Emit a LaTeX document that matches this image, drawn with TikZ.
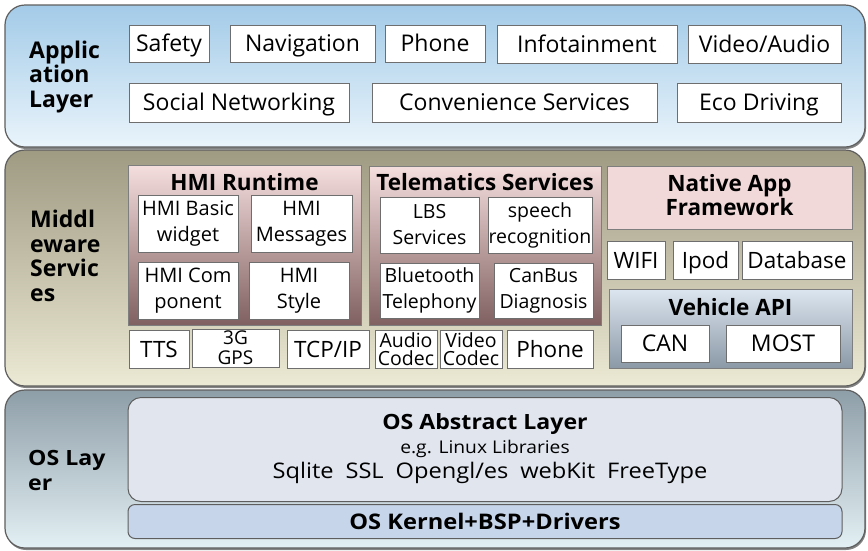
\documentclass[tikz,border=0pt]{standalone}
\usepackage{fontspec}
\setmainfont{Open Sans}
\newfontfamily\osfont[FakeStretch=1.1]{Open Sans}
\usetikzlibrary{shadows}

\definecolor{appTop}{HTML}{A3CBE8}
\definecolor{appBot}{HTML}{EAF4FB}
\definecolor{midTop}{HTML}{9F9A82}
\definecolor{midBot}{HTML}{ECE9D4}
\definecolor{osTop}{HTML}{8E9EA8}
\definecolor{osBot}{HTML}{E3F0F4}
\definecolor{pinkTop}{HTML}{F5DEDE}
\definecolor{pinkBot}{HTML}{806060}
\definecolor{pinkFlat}{HTML}{F2D9D9}
\definecolor{vehTop}{HTML}{DCE6F0}
\definecolor{vehBot}{HTML}{8B98A6}
\definecolor{absFill}{HTML}{E0E5EE}
\definecolor{kerFill}{HTML}{C6D5EA}
\definecolor{edge}{HTML}{5E5E5E}

\tikzset{
  layer/.style={draw=edge, line width=1.2pt, rounded corners=20pt, inner sep=0pt,
    drop shadow={shadow xshift=1pt, shadow yshift=-2pt, fill=black!65, opacity=0.75}},
  panel/.style={draw=edge!80, line width=0.9pt, inner sep=0pt},
  cell/.style={draw=edge!90, fill=white, line width=0.9pt, inner sep=0pt, align=center},
  oneline/.style={text height=16.4pt, text depth=0pt},
  appbox/.style={cell, oneline, font=\fontsize{23}{26}\selectfont},
  twoline/.style={cell, font=\fontsize{19.5}{26}\selectfont},
  single/.style={cell, oneline, font=\fontsize{22.5}{24}\selectfont},
  codec/.style={cell, font=\fontsize{19.5}{18}\selectfont},
  paneltitle/.style={inner sep=0pt, align=center, font=\bfseries\fontsize{22.5}{24}\selectfont},
  lbl/.style={inner sep=0pt, align=left, anchor=west, font=\bfseries\fontsize{23}{24.5}\selectfont},
  ostext/.style={inner sep=0pt, align=center},
}

\begin{document}
\begin{tikzpicture}[x=1pt, y=-1pt]
\useasboundingbox (0,0) rectangle (868,550);

% ---------- three layers ----------
\node[layer, top color=appTop, bottom color=appBot, minimum width=860, minimum height=142] (applayer) at (435,76) {};
\node[layer, top color=midTop, bottom color=midBot, minimum width=860, minimum height=236] (midlayer) at (435,268) {};
\node[layer, top color=osTop, bottom color=osBot, minimum width=860, minimum height=158] (oslayer) at (435,469) {};

\node[lbl] (applbl) at (29,77) {Applic\\ation\\Layer};
\node[lbl] (midlbl) at (30,256) {Middl\\eware\\Servic\\es};
\node[lbl, font=\osfont\bfseries\fontsize{21}{25}\selectfont] (oslbl) at (28,470) {OS Lay\\er};

% ---------- application layer ----------
\node[appbox, minimum width=80,  minimum height=37] (safety)  at (169,43.5) {Safety};
\node[appbox, minimum width=145, minimum height=37] (navi)    at (302.5,43.5) {Navigation};
\node[appbox, minimum width=100, minimum height=37] (phone)   at (435,43.5) {Phone};
\node[appbox, minimum width=180, minimum height=38] (info)    at (587,44) {Infotainment};
\node[appbox, minimum width=153, minimum height=38] (video)   at (764.5,44) {Video/Audio};
\node[appbox, minimum width=220, minimum height=39] (social)  at (239,102.5) {Social Networking};
\node[appbox, minimum width=285, minimum height=39] (conv)    at (514.5,102.5) {Convenience Services};
\node[appbox, minimum width=164, minimum height=39] (eco)     at (759,102.5) {Eco Driving};

% ---------- middleware: HMI runtime ----------
\node[panel, top color=pinkTop, bottom color=pinkBot, minimum width=233, minimum height=160] (hmi) at (244.5,245) {};
\node[paneltitle] (hmititle) at (244.5,182) {HMI Runtime};
\node[cell, font=\fontsize{20}{26}\selectfont, minimum width=100, minimum height=57] (hmibasic) at (188,223.5) {HMI Basic\\widget};
\node[cell, font=\fontsize{20}{26}\selectfont, minimum width=101, minimum height=57] (hmimsg)   at (301.5,224) {HMI\\Messages};
\node[cell, font=\fontsize{20}{26}\selectfont, minimum width=100, minimum height=57] (hmicomp)  at (188,290.5) {HMI Com\\ponent};
\node[cell, font=\fontsize{20}{26}\selectfont, minimum width=100, minimum height=57] (hmistyle) at (299,290.5) {HMI\\Style};

% ---------- middleware: telematics ----------
\node[panel, top color=pinkTop, bottom color=pinkBot, minimum width=232, minimum height=159] (tele) at (485,245.5) {};
\node[paneltitle] (teletitle) at (485,182) {Telematics Services};
\node[twoline, minimum width=99,  minimum height=56] (lbs)    at (429.5,225) {LBS\\Services};
\node[twoline, minimum width=104, minimum height=56] (speech) at (540,225) {speech\\recognition};
\node[twoline, minimum width=99,  minimum height=55] (bt)     at (429.5,290.5) {Bluetooth\\Telephony};
\node[twoline, minimum width=99,  minimum height=55] (canbus) at (543.5,290.5) {CanBus\\Diagnosis};

% ---------- middleware: bottom row ----------
\node[single, minimum width=60, minimum height=38] (tts)   at (159,349) {TTS};
\node[cell, font=\fontsize{19}{20}\selectfont, minimum width=87, minimum height=38] (gps) at (235.5,348) {3G\\GPS};
\node[single, minimum width=82, minimum height=38] (tcp)   at (328,349) {TCP/IP};
\node[codec,  minimum width=62, minimum height=38] (audio) at (406,349) {Audio\\Codec};
\node[codec,  minimum width=62, minimum height=38] (vcod)  at (471,349) {Video\\Codec};
\node[single, minimum width=86, minimum height=38] (phone2) at (550,349) {Phone};

% ---------- middleware: right column ----------
\node[panel, fill=pinkFlat, minimum width=245, minimum height=63] (native) at (729.5,197.5) {};
\node[paneltitle] (nativetitle) at (729.5,195) {Native App\\Framework};
\node[single, minimum width=58,  minimum height=38] (wifi) at (636,260) {WIFI};
\node[single, minimum width=65,  minimum height=38] (ipod) at (705.5,260) {Ipod};
\node[single, minimum width=110, minimum height=38] (db)   at (797,260) {Database};
\node[panel, top color=vehTop, bottom color=vehBot, minimum width=243, minimum height=79] (veh) at (730.5,328.5) {};
\node[paneltitle] (vehtitle) at (730.5,307) {Vehicle API};
\node[single, font=\fontsize{23}{24}\selectfont, minimum width=88,  minimum height=37] (can)  at (665,343.5) {CAN};
\node[single, font=\fontsize{23}{24}\selectfont, minimum width=114, minimum height=37] (most) at (783,343.5) {MOST};

% ---------- OS layer ----------
\node[draw=edge, line width=1pt, fill=absFill, rounded corners=13pt, inner sep=0pt, minimum width=714, minimum height=104] (osabs) at (485,449.5) {};
\node[ostext, font=\osfont\bfseries\fontsize{21}{24}\selectfont] (abstitle) at (485,424) {OS Abstract Layer};
\node[ostext, font=\osfont\fontsize{17.5}{20}\selectfont] (abseg) at (485,449) {e.g. Linux Libraries};
\node[ostext, font=\osfont\fontsize{21.5}{24}\selectfont] (abslibs) at (490,473) {Sqlite\hspace{0.55em}SSL\hspace{0.55em}Opengl/es\hspace{0.55em}webKit\hspace{0.55em}FreeType};
\node[draw=edge, line width=1pt, fill=kerFill, rounded corners=7pt, inner sep=0pt, minimum width=714, minimum height=34] (kernel) at (485,521.5) {};
\node[ostext, font=\osfont\bfseries\fontsize{21.5}{24}\selectfont] (kertext) at (485,521) {OS Kernel+BSP+Drivers};
\end{tikzpicture}
\end{document}
